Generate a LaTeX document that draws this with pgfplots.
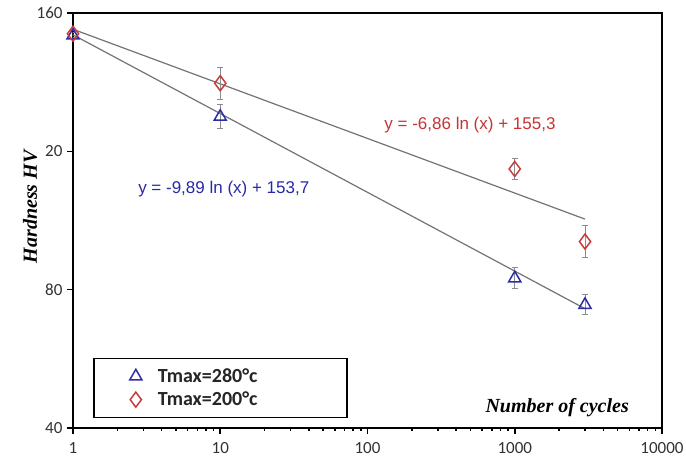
\documentclass[border=0pt]{standalone}
\usepackage{fontspec}
\setmainfont{Carlito}
\newfontfamily\timesfont{Liberation Serif}
\newfontfamily\arialfont{Liberation Sans}
\usepackage{pgfplots}
\pgfplotsset{compat=1.18}
\definecolor{blueser}{RGB}{45,45,165}
\definecolor{redser}{RGB}{200,60,60}
\definecolor{trend}{RGB}{115,115,115}
\definecolor{errgray}{RGB}{140,140,140}
\definecolor{blueeq}{RGB}{40,40,170}
\definecolor{redeq}{RGB}{200,50,50}
\definecolor{tickgray}{RGB}{50,50,50}

\begin{document}
\begin{tikzpicture}
\path[use as bounding box] (-73pt,-32pt) rectangle (613pt,428pt);
\begin{axis}[
    at={(0pt,0pt)}, anchor=south west,
    scale only axis, width=589pt, height=415pt,
    xmode=log, xmin=1, xmax=10000,
    ymin=40, ymax=160,
    xtick={1,10,100,1000,10000}, xticklabels={1,10,100,1000,10000},
    ytick={40,80,120,160}, yticklabels={40,80,20,160},
    minor xtick={},
    axis line style={line width=2pt},
    tick align=outside, xtick pos=bottom, ytick pos=left,
    major tick length=6pt,
    tick style={black, line width=1.5pt},
    ticklabel style={font=\fontsize{17}{17}\selectfont, text=tickgray},
    xticklabel style={yshift=-5pt},
    yticklabel style={xshift=-1pt},
    /pgf/number format/assume math mode=true,
    xlabel={Number of cycles},
    xlabel style={at={(rel axis cs:0.822,0.048)}, anchor=center,
        font=\fontsize{20}{20}\selectfont\timesfont\bfseries\itshape},
    ylabel={Hardness HV},
    ylabel style={at={(rel axis cs:-0.073,0.533)}, anchor=center,
        font=\fontsize{20}{20}\selectfont\timesfont\bfseries\itshape},
    legend style={at={(rel axis cs:0.034,0.024)}, anchor=south west,
        draw=black, line width=1.5pt, fill=white,
        inner xsep=36pt, inner ysep=6pt, row sep=0pt,
        font=\fontsize{20}{20}\selectfont\bfseries,
        nodes={inner ysep=4pt, inner xsep=16pt, text width=137pt, text=black!85}},
    legend cell align=left,
]
% trend lines (fits evaluated at x = 1 and x = 3000)
\addplot[trend, line width=1.2pt, forget plot] coordinates {(1,153.7) (3000,74.5)};
\addplot[trend, line width=1.2pt, forget plot] coordinates {(1,155.3) (3000,100.4)};

% Tmax = 280 C
\addplot[blueser, only marks, mark=triangle, mark size=7pt,
    mark options={line width=1.5pt},
    error bars/.cd, y dir=both, y explicit,
    error bar style={errgray, line width=1pt},
    error mark options={rotate=90, errgray, mark size=3pt, line width=1pt}]
coordinates {
    (1,153.5) +- (0,1.0)
    (10,130.0) +- (0,3.4)
    (1000,83.3) +- (0,3.1)
    (3000,75.6) +- (0,2.9)
};
\addlegendentry{Tmax=280°c}

% Tmax = 200 C
\addplot[redser, only marks, mark=diamond, mark size=7.5pt,
    mark options={line width=1.5pt},
    error bars/.cd, y dir=both, y explicit,
    error bar style={errgray, line width=1pt},
    error mark options={rotate=90, errgray, mark size=3pt, line width=1pt}]
coordinates {
    (1,154.0) +- (0,1.0)
    (10,139.7) +- (0,4.6)
    (1000,114.9) +- (0,3.0)
    (3000,93.9) +- (0,4.6)
};
\addlegendentry{Tmax=200°c}

\node[text=redeq, font=\fontsize{17}{17}\selectfont\arialfont] at (rel axis cs:0.674,0.730) {y = -6,86 ln (x) + 155,3};
\node[text=blueeq, font=\fontsize{17}{17}\selectfont\arialfont] at (rel axis cs:0.256,0.576) {y = -9,89 ln (x) + 153,7};
\end{axis}
\end{tikzpicture}
\end{document}
